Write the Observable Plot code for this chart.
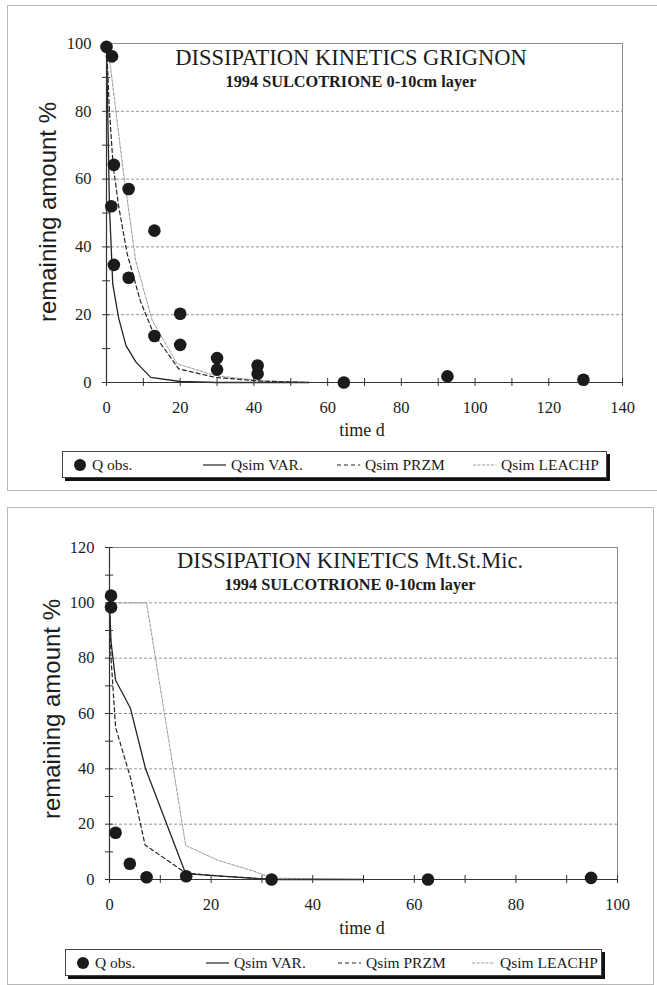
<!DOCTYPE html>
<html>
<head>
<meta charset="utf-8">
<script src="https://cdn.jsdelivr.net/npm/d3@7"></script>
<script src="https://cdn.jsdelivr.net/npm/@observablehq/plot@0.6"></script>
<style>
  html, body { margin: 0; padding: 0; background: #fff; }
  #page { position: relative; width: 657px; height: 985px; overflow: hidden; background: #fff; }
  .abs { position: absolute; white-space: nowrap; }
  .serif { font-family: "Liberation Serif", "DejaVu Serif", serif; color: #1c1c1c; }
  .sans { font-family: "Liberation Sans", Arial, sans-serif; color: #1c1c1c; }
  .panel { position: absolute; border: 1px solid #b8b8b8; }
  .legend { position: absolute; border: 1px solid #444; background: #fff; box-shadow: 3px 3px 0 #111; }
  .legend .item { position: absolute; top: 0; height: 100%; display: flex; align-items: center; white-space: nowrap; font-family: "Liberation Serif", serif; font-size: 15.5px; color: #1c1c1c; }
  svg.plotsvg { position: absolute; }
  svg.plotsvg text { font-family: "Liberation Serif", serif !important; font-size: 16.5px; fill: #1c1c1c; }
</style>
</head>
<body>
<div id="page"></div>
<script>
// ---------- DATA ----------
const seriesNames = ["Q obs.", "Qsim VAR.", "Qsim PRZM", "Qsim LEACHP"];

// Panel 1: Grignon
const grignonTitle = "DISSIPATION KINETICS GRIGNON";
const grignonSubtitle = "1994 SULCOTRIONE 0-10cm layer";
const grignonXTicks = [0, 20, 40, 60, 80, 100, 120, 140];
const grignonYTicks = [0, 20, 40, 60, 80, 100];
const grignonObsDay = [0, 1.5, 2, 1.3, 2, 6, 6, 13, 13, 20, 20, 30, 30, 41, 41, 64.4, 92.5, 129.4];
const grignonObsPct = [99, 96.2, 64.2, 52, 34.7, 57.1, 30.9, 44.8, 13.7, 20.3, 11.1, 7.2, 3.8, 5, 2.6, 0, 1.8, 0.8];
const grignonVarDay = [0, 0.8, 1.7, 3.3, 5.3, 8, 12, 20, 30, 55];
const grignonVarPct = [100, 52, 29, 19, 10.9, 6, 1.5, 0.3, 0, 0];
const grignonPrzmDay = [0, 0.8, 1.8, 3.3, 5.6, 9.2, 12.8, 19.6, 29.6, 42, 55];
const grignonPrzmPct = [100, 80, 64, 52, 38, 24, 14.4, 4, 1.5, 0.4, 0];
const grignonLeachpDay = [0, 1.1, 4.3, 7.9, 12.4, 19.2, 29.6, 42, 55];
const grignonLeachpPct = [100, 93, 64.5, 36, 18.3, 5.5, 2, 0.5, 0];

// Panel 2: Mt.St.Mic.
const micTitle = "DISSIPATION KINETICS Mt.St.Mic.";
const micSubtitle = "1994 SULCOTRIONE 0-10cm layer";
const micXTicks = [0, 20, 40, 60, 80, 100];
const micYTicks = [0, 20, 40, 60, 80, 100, 120];
const micObsDay = [0.3, 0.3, 1.2, 4, 7.3, 15.1, 31.9, 62.7, 94.8];
const micObsPct = [102.6, 98.4, 16.9, 5.7, 0.8, 1.2, 0, 0, 0.6];
const micVarDay = [0, 0.3, 1.2, 4.1, 7.1, 15, 22, 32, 50];
const micVarPct = [100, 86, 72, 62, 40, 2.1, 1.2, 0, 0];
const micPrzmDay = [0, 0.3, 1.2, 4.1, 7, 15, 22, 32, 50];
const micPrzmPct = [100, 80, 55, 37, 12.5, 2.3, 1.2, 0, 0];
const micLeachpDay = [0, 7.3, 15, 21.4, 28.4, 32, 50];
const micLeachpPct = [100, 100, 12.3, 6.9, 3, 0.5, 0];

const xLabel = "time d";
const yLabel = "remaining amount %";

// ---------- HELPERS ----------
const zip = (xs, ys) => xs.map((x, i) => ({day: x, pct: ys[i]}));
const page = document.getElementById("page");

function place(text, x, y, cls, css) {
  const d = document.createElement("div");
  d.className = "abs " + cls;
  d.textContent = text;
  d.style.left = x + "px";
  d.style.top = y + "px";
  d.style.transform = "translate(-50%, -50%)" + (css.rotate ? " rotate(-90deg)" : "");
  d.style.fontSize = css.size + "px";
  d.style.lineHeight = "1";
  if (css.weight) d.style.fontWeight = css.weight;
  page.appendChild(d);
}

const LINE_DARK = "#242424";
const LEACHP_COLOR = "#9a9a9a";
const SERIF = "Liberation Serif";

function chart(o) {
  const obs = zip(o.obsDay, o.obsPct);
  const v = zip(o.varDay, o.varPct);
  const p = zip(o.przmDay, o.przmPct);
  const l = zip(o.leachpDay, o.leachpPct);
  const yMax = d3.max(o.yTicks), xMax = d3.max(o.xTicks);
  const svg = Plot.plot({
    width: 657,
    height: o.height,
    marginLeft: o.ml, marginRight: o.mr, marginTop: o.mt, marginBottom: o.mb,
    style: {fontFamily: SERIF, fontSize: "16.5px", color: "#1c1c1c", background: "transparent", overflow: "visible"},
    x: {domain: [0, xMax]},
    y: {domain: [0, yMax]},
    marks: [
      Plot.gridY({ticks: o.yTicks.filter(t => t > 0 && t < yMax), stroke: "#8a8a8a", strokeOpacity: 0.9, strokeDasharray: "3,2"}),
      Plot.frame({stroke: "#8a8a8a", strokeWidth: 1}),
      Plot.line(l, {x: "day", y: "pct", stroke: LEACHP_COLOR, strokeWidth: 1, strokeDasharray: "3,1.5"}),
      Plot.line(p, {x: "day", y: "pct", stroke: LINE_DARK, strokeWidth: 1.2, strokeDasharray: "4,3"}),
      Plot.line(v, {x: "day", y: "pct", stroke: LINE_DARK, strokeWidth: 1.3}),
      Plot.ruleX([0], {stroke: "#333", strokeWidth: 1.2}),
      Plot.ruleY([0], {stroke: "#333", strokeWidth: 1.2}),
      // cross ticks (Excel-style)
      Plot.axisX({ticks: d3.range(0, xMax + 1, 10), tickSize: 8, dy: -4, tickFormat: () => "", label: null, stroke: "#333"}),
      Plot.axisY({ticks: d3.range(0, yMax + 1, 10), tickSize: 8, dx: 4, tickFormat: () => "", label: null, stroke: "#333"}),
      // labels
      Plot.axisX({ticks: o.xTicks, tickSize: 0, tickPadding: 19, label: null, tickFormat: d3.format("d"), fontFamily: SERIF, fontSize: 16.5}),
      Plot.axisY({ticks: o.yTicks, tickSize: 0, tickPadding: 15, label: null, tickFormat: d3.format("d"), fontFamily: SERIF, fontSize: 16.5}),
      Plot.dot(obs, {x: "day", y: "pct", r: 6.3, fill: "#1b1b1b", stroke: "none"})
    ]
  });
  svg.classList.add("plotsvg");
  svg.style.left = "0px";
  svg.style.top = o.top + "px";
  page.appendChild(svg);
}

function legend(o) {
  const box = document.createElement("div");
  box.className = "legend";
  box.style.left = o.left + "px";
  box.style.top = o.top + "px";
  box.style.width = o.width + "px";
  box.style.height = o.height + "px";
  const ns = "http://www.w3.org/2000/svg";
  const mk = (x, w, draw, text) => {
    const it = document.createElement("div");
    it.className = "item";
    it.style.left = x + "px";
    const s = document.createElementNS(ns, "svg");
    s.setAttribute("width", w); s.setAttribute("height", 14);
    s.style.marginRight = o.gap + "px";
    s.style.flex = "none";
    draw(s, ns, w);
    it.appendChild(s);
    const t = document.createElement("span");
    t.textContent = text;
    it.appendChild(t);
    box.appendChild(it);
  };
  const lineDraw = (stroke, dash, sw) => (s, ns, w) => {
    const ln = document.createElementNS(ns, "line");
    ln.setAttribute("x1", 0); ln.setAttribute("x2", w);
    ln.setAttribute("y1", 7); ln.setAttribute("y2", 7);
    ln.setAttribute("stroke", stroke); ln.setAttribute("stroke-width", sw);
    if (dash) ln.setAttribute("stroke-dasharray", dash);
    s.appendChild(ln);
  };
  mk(o.pos[0], 14, (s, ns) => {
    const c = document.createElementNS(ns, "circle");
    c.setAttribute("cx", 7); c.setAttribute("cy", 7); c.setAttribute("r", 6);
    c.setAttribute("fill", "#1b1b1b"); s.appendChild(c);
  }, seriesNames[0]);
  mk(o.pos[1], 23, lineDraw(LINE_DARK, null, 1.2), seriesNames[1]);
  mk(o.pos[2], 23, lineDraw(LINE_DARK, "4,3", 1.2), seriesNames[2]);
  mk(o.pos[3], 23, lineDraw(LEACHP_COLOR, "3,1.5", 1), seriesNames[3]);
  page.appendChild(box);
}

// ---------- PANEL FRAMES ----------
const f1 = document.createElement("div");
f1.className = "panel";
Object.assign(f1.style, {left: "7px", top: "5px", width: "700px", height: "484px"});
page.appendChild(f1);
const f2 = document.createElement("div");
f2.className = "panel";
Object.assign(f2.style, {left: "7px", top: "507px", width: "645px", height: "476px"});
page.appendChild(f2);

// ---------- PANEL 1 ----------
chart({
  top: 0, height: 440, ml: 106, mr: 35, mt: 43, mb: 58,
  xTicks: grignonXTicks, yTicks: grignonYTicks,
  obsDay: grignonObsDay, obsPct: grignonObsPct,
  varDay: grignonVarDay, varPct: grignonVarPct,
  przmDay: grignonPrzmDay, przmPct: grignonPrzmPct,
  leachpDay: grignonLeachpDay, leachpPct: grignonLeachpPct
});
place(grignonTitle, 351, 58, "serif", {size: 22.5});
place(grignonSubtitle, 351, 82, "serif", {size: 16.3, weight: "bold"});
place(yLabel, 48, 212, "sans", {size: 24, rotate: true});
place(xLabel, 362, 430, "serif", {size: 18});
legend({left: 62, top: 451, width: 543, height: 25, gap: 5, pos: [10, 140, 274, 410]});

// ---------- PANEL 2 ----------
chart({
  top: 500, height: 440, ml: 109, mr: 40, mt: 47, mb: 61,
  xTicks: micXTicks, yTicks: micYTicks,
  obsDay: micObsDay, obsPct: micObsPct,
  varDay: micVarDay, varPct: micVarPct,
  przmDay: micPrzmDay, przmPct: micPrzmPct,
  leachpDay: micLeachpDay, leachpPct: micLeachpPct
});
place(micTitle, 350, 561, "serif", {size: 22.5});
place(micSubtitle, 350, 585, "serif", {size: 16.3, weight: "bold"});
place(yLabel, 52, 709, "sans", {size: 24, rotate: true});
place(xLabel, 362, 928, "serif", {size: 18});
legend({left: 65, top: 949, width: 535, height: 25, gap: 5, pos: [10, 140, 272, 406]});
</script>
</body>
</html>
